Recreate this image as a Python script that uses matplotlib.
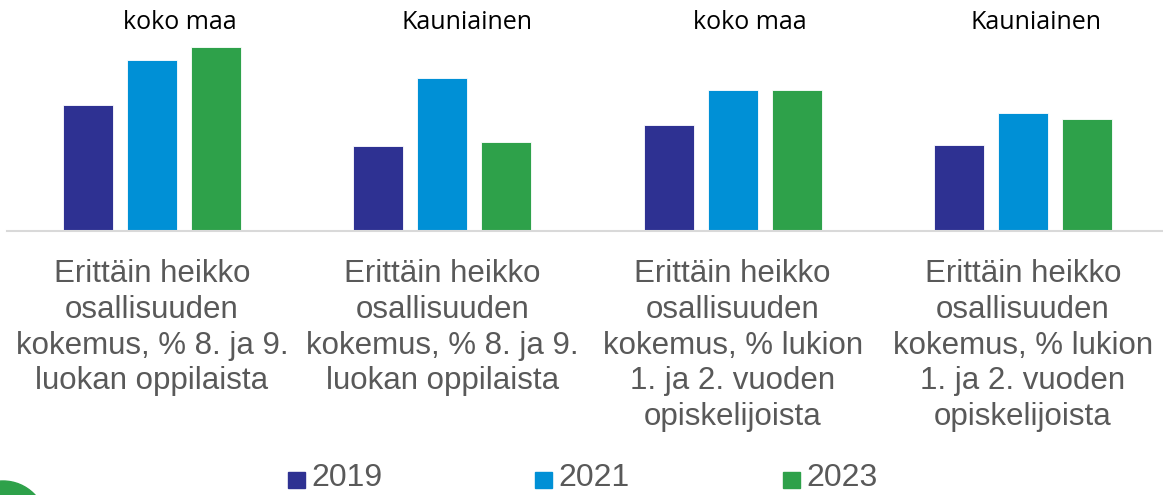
import numpy as np
import matplotlib.pyplot as plt
from matplotlib.patches import Ellipse, Rectangle

# values (relative bar heights, no axis shown)
regions = ['koko maa', 'Kauniainen', 'koko maa', 'Kauniainen']
categories = ['Erittäin heikko\nosallisuuden\nkokemus, % 8. ja 9.\nluokan oppilaista',
              'Erittäin heikko\nosallisuuden\nkokemus, % 8. ja 9.\nluokan oppilaista',
              'Erittäin heikko\nosallisuuden\nkokemus, % lukion\n1. ja 2. vuoden\nopiskelijoista',
              'Erittäin heikko\nosallisuuden\nkokemus, % lukion\n1. ja 2. vuoden\nopiskelijoista']
years = ['2019', '2021', '2023']
v2019 = [12.6, 8.5, 10.6, 8.6]
v2021 = [17.1, 15.3, 14.1, 11.8]
v2023 = [18.4, 8.9, 14.1, 11.2]
colors = ['#2E3192', '#0090D6', '#2EA14A']

W, H = 1163, 495
fig = plt.figure(figsize=(W / 100, H / 100), dpi=100)
ax = fig.add_axes([6.8 / W, (H - 231) / H, 1161.3 / W, 190 / H])

x = np.arange(len(categories))
step = 0.2204
width = 0.172
for i, vals in enumerate([v2019, v2021, v2023]):
    ax.bar(x + (i - 1) * step, vals, width, color=colors[i],
           edgecolor='white', linewidth=0.6, zorder=2)

ax.set_xlim(-0.5, len(categories) - 0.5)
ax.set_ylim(0, 190 / 184 * max(v2023))
ax.set_yticks([])
ax.set_xticks([])
for s in ['top', 'right', 'left']:
    ax.spines[s].set_visible(False)
ax.spines['bottom'].set_color('#D9D9D9')
ax.spines['bottom'].set_linewidth(1.5)

# region labels above the bars
offsets = [0.097, 0.086, 0.059, 0.045]
for i, r in enumerate(regions):
    ax.text(x[i] + offsets[i], 1.10, r, transform=ax.get_xaxis_transform(),
            ha='center', va='center', fontsize=18, family='Open Sans', color='black')

# category labels
for i, c in enumerate(categories):
    ax.text(x[i], -0.15, c, transform=ax.get_xaxis_transform(),
            ha='center', va='top', fontsize=22.5, family='Liberation Sans',
            color='#595959', linespacing=1.24)

# legend
lx = [288, 535, 783]
for i, y in enumerate(years):
    fig.patches.append(Rectangle((lx[i] / W, (H - 488) / H), 17 / W, 16 / H,
                                 transform=fig.transFigure, color=colors[i]))
    fig.text((lx[i] + 23) / W, (H - 478) / H, y, ha='left', va='center',
             fontsize=23, family='Liberation Sans', color='#595959')

# decorative circle in the corner
fig.patches.append(Ellipse((3 / W, (H - 524.6) / H), 87.2 / W, 87.2 / H,
                           transform=fig.transFigure, color='#2EA14A'))

fig.savefig('out.png', dpi=100)
